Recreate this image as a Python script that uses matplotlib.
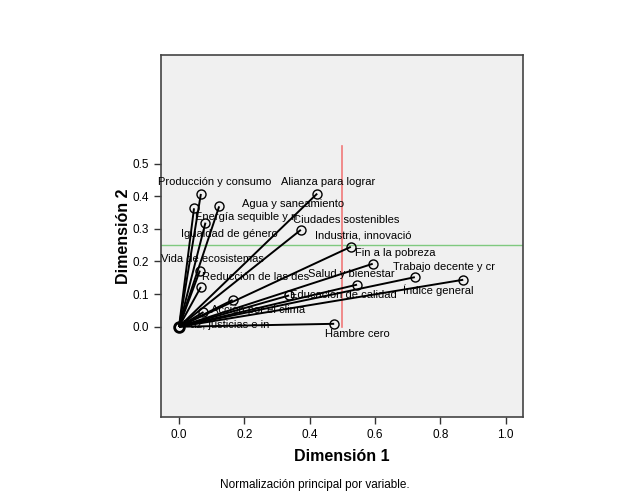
import matplotlib
matplotlib.use("Agg")
import matplotlib.pyplot as plt

plt.rcParams['font.family'] = ['Liberation Sans', 'DejaVu Sans']

names = ["Producción y consumo", "Alianza para lograr", "Agua y saneamiento",
         "Igualdad de género", "Energía sequible y n", "Ciudades sostenibles",
         "Industria, innovació", "Fin a la pobreza", "Vida de ecosistemas",
         "Trabajo decente y cr", "Índice general", "Salud y bienestar",
         "Reducción de las des", "Educación de calidad", "Vida submarina",
         "Acción por el clima", "Hambre cero", "Paz, justicias e in"]
dim1 = [0.067, 0.423, 0.123, 0.046, 0.081, 0.373, 0.526, 0.593, 0.064,
        0.722, 0.870, 0.545, 0.067, 0.337, 0.164, 0.075, 0.475, 0.0]
dim2 = [0.407, 0.408, 0.369, 0.363, 0.319, 0.297, 0.245, 0.193, 0.172,
        0.152, 0.144, 0.129, 0.122, 0.096, 0.082, 0.045, 0.009, 0.0]
show_label = [True] * 14 + [False] + [True] * 3

# label anchor positions (data coords, centre of text)
label_pos = [(0.110, 0.443), (0.458, 0.443), (0.349, 0.375),
             (0.153, 0.284), (0.204, 0.336), (0.511, 0.327),
             (0.563, 0.281), (0.663, 0.225), (0.102, 0.208),
             (0.810, 0.182), (0.793, 0.113), (0.527, 0.161),
             (0.233, 0.152), (0.503, 0.096), (0.0, 0.0),
             (0.241, 0.051), (0.546, -0.022), (0.144, 0.005)]

xticks = [0.0, 0.2, 0.4, 0.6, 0.8, 1.0]
yticks = [0.0, 0.1, 0.2, 0.3, 0.4, 0.5]

fig = plt.figure(figsize=(6.29, 5.04), dpi=100)
ax = fig.add_axes([0.256, 0.173, 0.576, 0.718])
ax.set_facecolor('#F0F0F0')

for x, y in zip(dim1, dim2):
    ax.plot([0, x], [0, y], color='black', lw=1.4, zorder=3, solid_capstyle='butt')
ax.plot(dim1, dim2, linestyle='none', marker='o', ms=6.5, mfc='none',
        mec='black', mew=1.0, zorder=4)
ax.plot([0], [0], linestyle='none', marker='o', ms=7, mfc='none',
        mec='black', mew=2.0, zorder=5)

for name, (lx, ly), s in zip(names, label_pos, show_label):
    if s:
        ax.text(lx, ly, name, ha='center', va='center', fontsize=8, zorder=6)

ax.axhline(0.25, color='#7FC97F', lw=1.0, zorder=2)
ax.plot([0.5, 0.5], [0.0, 0.555], color='#F07878', lw=1.2, zorder=2)

ax.set_xlim(-0.055, 1.054)
ax.set_ylim(-0.276, 0.833)
ax.set_xticks(xticks)
ax.set_xticklabels([f"{t:.1f}" for t in xticks])
ax.set_yticks(yticks)
ax.set_yticklabels([f"{t:.1f}" for t in yticks])
ax.tick_params(direction='out', length=5, width=1, labelsize=8.5, color='#333333')
for sp in ax.spines.values():
    sp.set_color('#444444')
    sp.set_linewidth(1.2)

ax.set_xlabel("Dimensión 1", fontsize=11.5, fontweight='bold', labelpad=6)
ax.set_ylabel("Dimensión 2", fontsize=11.5, fontweight='bold', labelpad=1)

fig.text(0.5, 1 - 485 / 504, "Normalización principal por variable.",
         ha='center', va='center', fontsize=8.5)

fig.savefig("out.png", dpi=100)
